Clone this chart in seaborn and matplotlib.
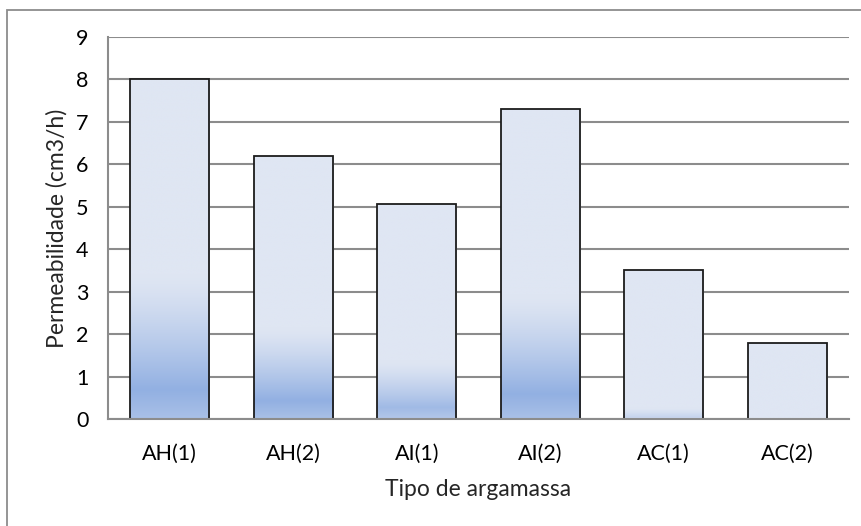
import numpy as np
import matplotlib
matplotlib.use("Agg")
import matplotlib.pyplot as plt
from matplotlib.patches import Rectangle
import seaborn as sns
import pandas as pd

# data
categories = ["AH(1)", "AH(2)", "AI(1)", "AI(2)", "AC(1)", "AC(2)"]
permeability = [8.0, 6.2, 5.07, 7.3, 3.5, 1.8]

sns.set_theme(style="white")
plt.rcParams['font.family'] = ['Lato', 'DejaVu Sans']
plt.rcParams['font.size'] = 15

light = np.array([223, 230, 243]) / 255.0
blue = np.array([146, 176, 226]) / 255.0
grid_col = "#8c8c8c"

df = pd.DataFrame({"Tipo": categories, "Perm": permeability})

fig = plt.figure(figsize=(8.62, 5.26), dpi=100)
ax = fig.add_axes([108 / 862, 1 - 419 / 526, (849 - 108) / 862, (419 - 37) / 526])

sns.barplot(data=df, x="Tipo", y="Perm", color=light, saturation=1,
            width=0.64, ax=ax, edgecolor="none", linewidth=0)

# gradient fill at the bottom of each bar, then a dark outline on top
for patch in list(ax.patches):
    x0 = patch.get_x()
    w = patch.get_width()
    h = patch.get_height()
    top = max(0.0, 0.7 * h - 2.2)
    strength = min(1.0, top / 2.2 + 0.2)
    peak = 0.2 * top
    ys = np.linspace(0, h, 400)
    a = np.zeros_like(ys)
    if top > 0.05:
        low = ys <= peak
        a[low] = 0.7 + 0.3 * (ys[low] / max(peak, 1e-6))
        mid = (ys > peak) & (ys < top)
        u = (ys[mid] - peak) / (top - peak)
        a[mid] = (1 - u) ** 1.3
        a = a * strength
    img = light[None, :] + a[:, None] * (blue - light)[None, :]
    img = np.repeat(img[:, None, :], 2, axis=1)
    im = ax.imshow(img, extent=[x0, x0 + w, 0, h], origin="lower",
                   aspect="auto", zorder=2, interpolation="bilinear")
    im.set_clip_path(patch)
    ax.add_patch(Rectangle((x0, 0), w, h, fill=False, edgecolor="#1c1c1c",
                           linewidth=1.3, zorder=3))

ax.set_xlim(-0.5, len(categories) - 0.5)
ax.set_ylim(0, 9)
ax.set_yticks(range(0, 10))
ax.yaxis.grid(True, color=grid_col, linewidth=1.5)
ax.set_axisbelow(True)

for side in ["top", "right"]:
    ax.spines[side].set_visible(False)
for side in ["left", "bottom"]:
    ax.spines[side].set_color(grid_col)
    ax.spines[side].set_linewidth(1.5)
ax.spines["bottom"].set_zorder(4)

ax.tick_params(axis="both", length=0, labelsize=15.5, colors="black")
ax.tick_params(axis="y", pad=14)
ax.tick_params(axis="x", pad=18)

ax.set_xlabel("Tipo de argamassa", fontsize=16.5, labelpad=11)
ax.set_ylabel("Permeabilidade (cm3/h)", fontsize=16.5, labelpad=6)

# outer chart frame
fig.patches.append(Rectangle((7 / 862, -0.1), 1.2, 1.1 - 10 / 526, fill=False,
                             edgecolor="#8c8c8c", linewidth=1.3,
                             transform=fig.transFigure, figure=fig))

fig.savefig("out.png", dpi=100)
